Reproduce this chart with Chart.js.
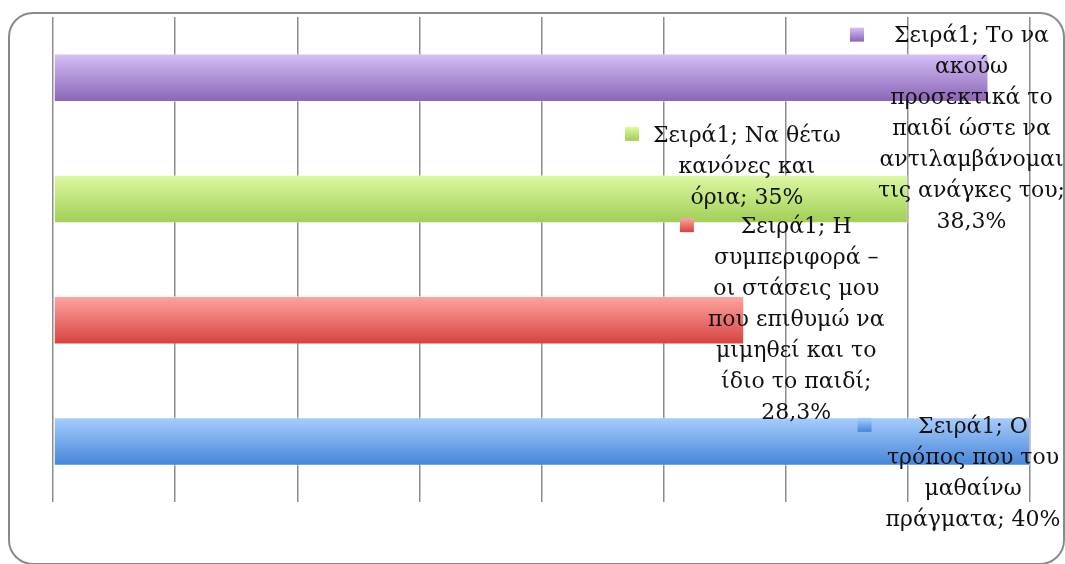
<!DOCTYPE html>
<html>
<head>
<meta charset="utf-8">
<script src="https://cdn.jsdelivr.net/npm/chart.js@4.4.1/dist/chart.umd.min.js"></script>
<style>
  html, body { margin: 0; padding: 0; background: #fff; }
  canvas { display: block; }
</style>
</head>
<body>
<canvas id="chart" width="1065" height="564"></canvas>
<script>
// data, top to bottom as it appears in the picture
var seriesName = "Σειρά1";
var categories = [
    ["Το να", "ακούω", "προσεκτικά το", "παιδί ώστε να", "αντιλαμβάνομαι", "τις ανάγκες του"],
    ["Να θέτω", "κανόνες και", "όρια"],
    ["Η", "συμπεριφορά –", "οι στάσεις μου", "που επιθυμώ να", "μιμηθεί και το", "ίδιο το παιδί"],
    ["Ο", "τρόπος που του", "μαθαίνω", "πράγματα"]
];
var values = [38.3, 35, 28.3, 40];
var xMin = 0, xMax = 40, xStep = 5;

// styles
var barTop = ["#d6c1f7", "#def9a4", "#ffa5a2", "#a8cefd"];
var barBottom = ["#8964b5", "#a0ce55", "#d5423e", "#4585d8"];
var labelShift = [[-17, 52], [-161, -32], [52, 0], [-57, 32]];
var labelFont = "22px 'DejaVu Serif', serif";
var lineH = 31;

var fmt = function(v) {
    return String(v).replace(".", ",") + "%";
};

var grad = function(ctx, y0, y1, i) {
    var g = ctx.createLinearGradient(0, y0, 0, y1);
    g.addColorStop(0, barTop[i]);
    g.addColorStop(1, barBottom[i]);
    return g;
};

var frame = {
    id: "frame",
    beforeDraw: function(chart) {
        var c = chart.ctx;
        c.save();
        c.strokeStyle = "#8a8a8a";
        c.lineWidth = 2;
        c.beginPath();
        c.roundRect(9, 13, 1055, 551, 24);
        c.stroke();
        c.restore();
    }
};

var labels = {
    id: "barLabels",
    afterDatasetsDraw: function(chart) {
        var c = chart.ctx,
            meta = chart.getDatasetMeta(0);
        c.save();
        c.font = labelFont;
        c.fillStyle = "#111";
        c.textAlign = "center";
        c.textBaseline = "middle";
        meta.data.forEach(function(el, i) {
            var lines = categories[i].slice();
            var n = lines.length;
            lines[0] = seriesName + "; " + lines[0];
            var last = lines[n - 1] + ";";
            var withVal = last + " " + fmt(values[i]);
            if (c.measureText(withVal).width <= 195) {
                lines[n - 1] = withVal;
            } else {
                lines[n - 1] = last;
                lines.push(fmt(values[i]));
            }
            var cx = el.x + labelShift[i][0],
                cy = el.y + labelShift[i][1],
                top = cy - (lines.length - 1) * lineH / 2,
                w = 0;
            lines.forEach(function(t, k) {
                w = Math.max(w, c.measureText(t).width);
                c.fillText(t, cx, top + k * lineH);
            });
            var kx = cx - w / 2 - 28, ky = top - 9;
            c.fillStyle = grad(c, ky, ky + 14, i);
            c.fillRect(kx, ky, 14, 14);
            c.fillStyle = "#111";
        });
        c.restore();
    }
};

var ctx = document.getElementById("chart");
new Chart(ctx, {
    type: "bar",
    data: {
        labels: categories,
        datasets: [{
            label: seriesName,
            data: values,
            backgroundColor: function(context) {
                var chart = context.chart,
                    area = chart.chartArea;
                if (!area) return barTop[context.dataIndex];
                var y = chart.scales.y.getPixelForValue(context.dataIndex),
                    h = area.height / categories.length * 0.4;
                return grad(chart.ctx, y - h / 2, y + h / 2, context.dataIndex);
            },
            borderColor: "rgba(255,255,255,0.45)",
            borderWidth: 1,
            borderSkipped: false,
            categoryPercentage: 1,
            barPercentage: 0.4
        }]
    },
    options: {
        indexAxis: "y",
        responsive: false,
        animation: false,
        layout: { padding: { left: 53, right: 35, top: 17, bottom: 62 } },
        plugins: {
            legend: { display: false },
            tooltip: { enabled: false }
        },
        scales: {
            x: {
                type: "linear",
                min: xMin,
                max: xMax,
                ticks: { display: false, stepSize: xStep },
                grid: { color: "#8c8c8c", lineWidth: 1.5, drawTicks: false },
                border: { display: false }
            },
            y: { display: false }
        }
    },
    plugins: [frame, labels]
});
</script>
</body>
</html>
